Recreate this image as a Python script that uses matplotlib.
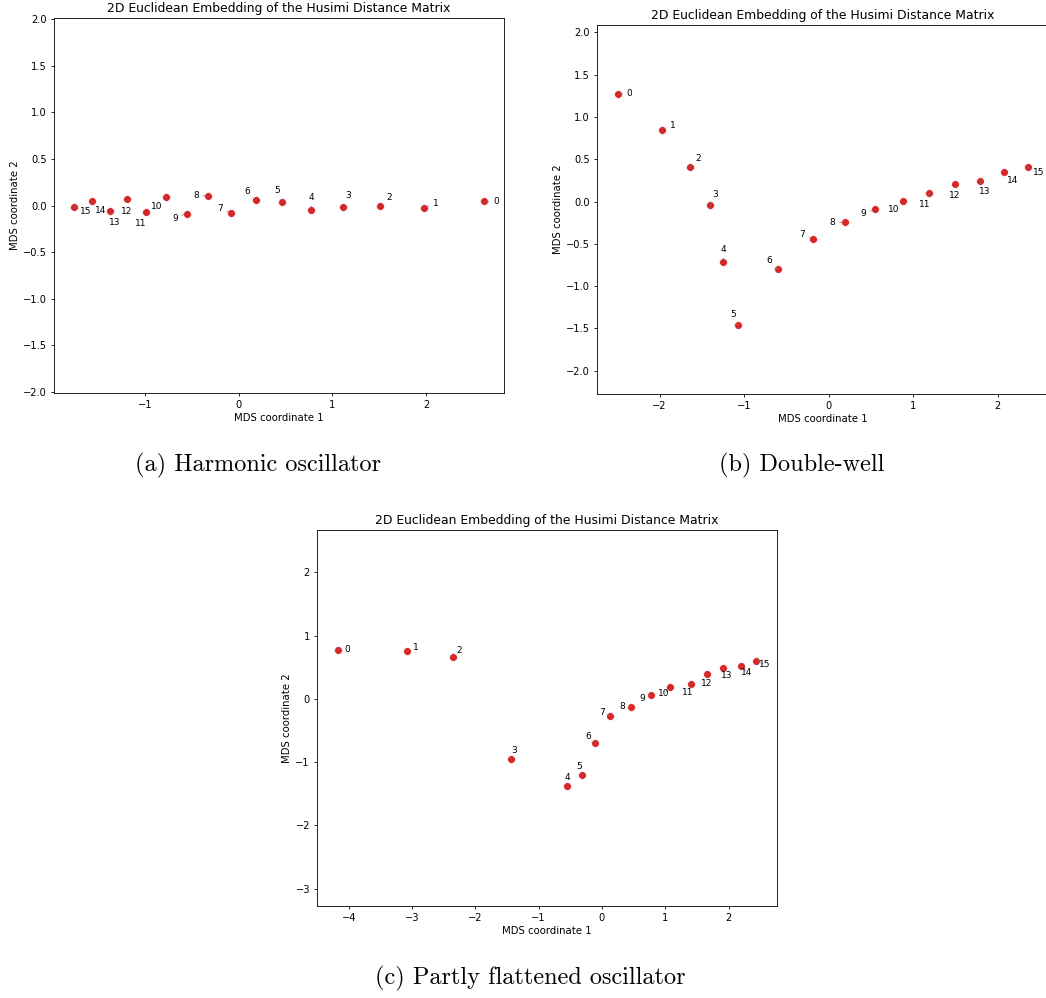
import numpy as np
import matplotlib
matplotlib.use("Agg")
import matplotlib.pyplot as plt

# MDS coordinates (state index 0..15)
labels = [str(i) for i in range(16)]

# (a) Harmonic oscillator
ho_x = [2.614, 1.982, 1.511, 1.118, 0.775, 0.464, 0.182, -0.079,
        -0.325, -0.557, -0.779, -0.993, -1.193, -1.375, -1.571, -1.754]
ho_y = [0.043, -0.025, -0.007, -0.021, -0.046, 0.036, 0.057, -0.082,
        0.104, -0.086, 0.089, -0.071, 0.075, -0.061, 0.046, -0.014]

# (b) Double-well
dw_x = [-2.498, -1.972, -1.644, -1.399, -1.249, -1.071, -0.601, -0.186,
        0.190, 0.545, 0.874, 1.190, 1.494, 1.787, 2.075, 2.352]
dw_y = [1.273, 0.850, 0.407, -0.043, -0.711, -1.462, -0.802, -0.439,
        -0.245, -0.091, 0.004, 0.095, 0.209, 0.245, 0.352, 0.403]

# (c) Partly flattened oscillator
pf_x = [-4.174, -3.077, -2.362, -1.441, -0.546, -0.313, -0.111, 0.132,
        0.466, 0.768, 1.081, 1.404, 1.658, 1.917, 2.193, 2.436]
pf_y = [0.779, 0.758, 0.668, -0.953, -1.384, -1.200, -0.700, -0.268,
        -0.121, 0.058, 0.189, 0.237, 0.389, 0.495, 0.521, 0.600]

title = "2D Euclidean Embedding of the Husimi Distance Matrix"
captions = ["(a) Harmonic oscillator", "(b) Double-well",
            "(c) Partly flattened oscillator"]

W, H = 1046, 998
fig = plt.figure(figsize=(W / 100, H / 100), dpi=100)


def box(left, right, top, bottom):
    # pixel box -> figure fraction
    return [left / W, 1 - bottom / H, (right - left) / W, (bottom - top) / H]


def panel(rect, xs, ys, radius):
    ax = fig.add_axes(rect)
    ax.scatter(xs, ys, s=32, color="#d62728", edgecolor="white",
               linewidth=0.5, zorder=3)
    # labels sit around each point, turning counter-clockwise with the index
    for i, (x, y) in enumerate(zip(xs, ys)):
        ang = 2 * np.pi * i / len(xs)
        ax.annotate(labels[i], (x, y),
                    xytext=(radius * np.cos(ang), radius * np.sin(ang)),
                    textcoords="offset pixels", ha="center", va="center",
                    fontsize=6.5,
                    arrowprops=dict(arrowstyle="-", color="grey", lw=0.5,
                                    shrinkA=1, shrinkB=2))
    ax.set_aspect("equal", adjustable="datalim")
    ax.set_title(title, fontsize=8.9, pad=4)
    ax.set_xlabel("MDS coordinate 1", fontsize=7.3, labelpad=2.5)
    ax.set_ylabel("MDS coordinate 2", fontsize=7.3, labelpad=2.5)
    ax.tick_params(labelsize=7.1, length=2.5, width=0.6, pad=2.5)
    for sp in ax.spines.values():
        sp.set_linewidth(0.6)
    return ax


ax_a = panel(box(54, 504, 18, 393), ho_x, ho_y, 12.5)
ax_a.set_ylim(-2.01, 2.01)
panel(box(597, 1048, 25, 394), dw_x, dw_y, 12)
panel(box(317, 777, 530, 906), pf_x, pf_y, 9)

# LaTeX-style subfigure captions
cap_pos = [(258, 465), (802, 465), (530, 978)]
for txt, (px, py) in zip(captions, cap_pos):
    fig.text(px / W, 1 - py / H, txt, family="cmr10", fontsize=17.5,
             ha="center", va="center")

fig.savefig("out.png", dpi=100)
